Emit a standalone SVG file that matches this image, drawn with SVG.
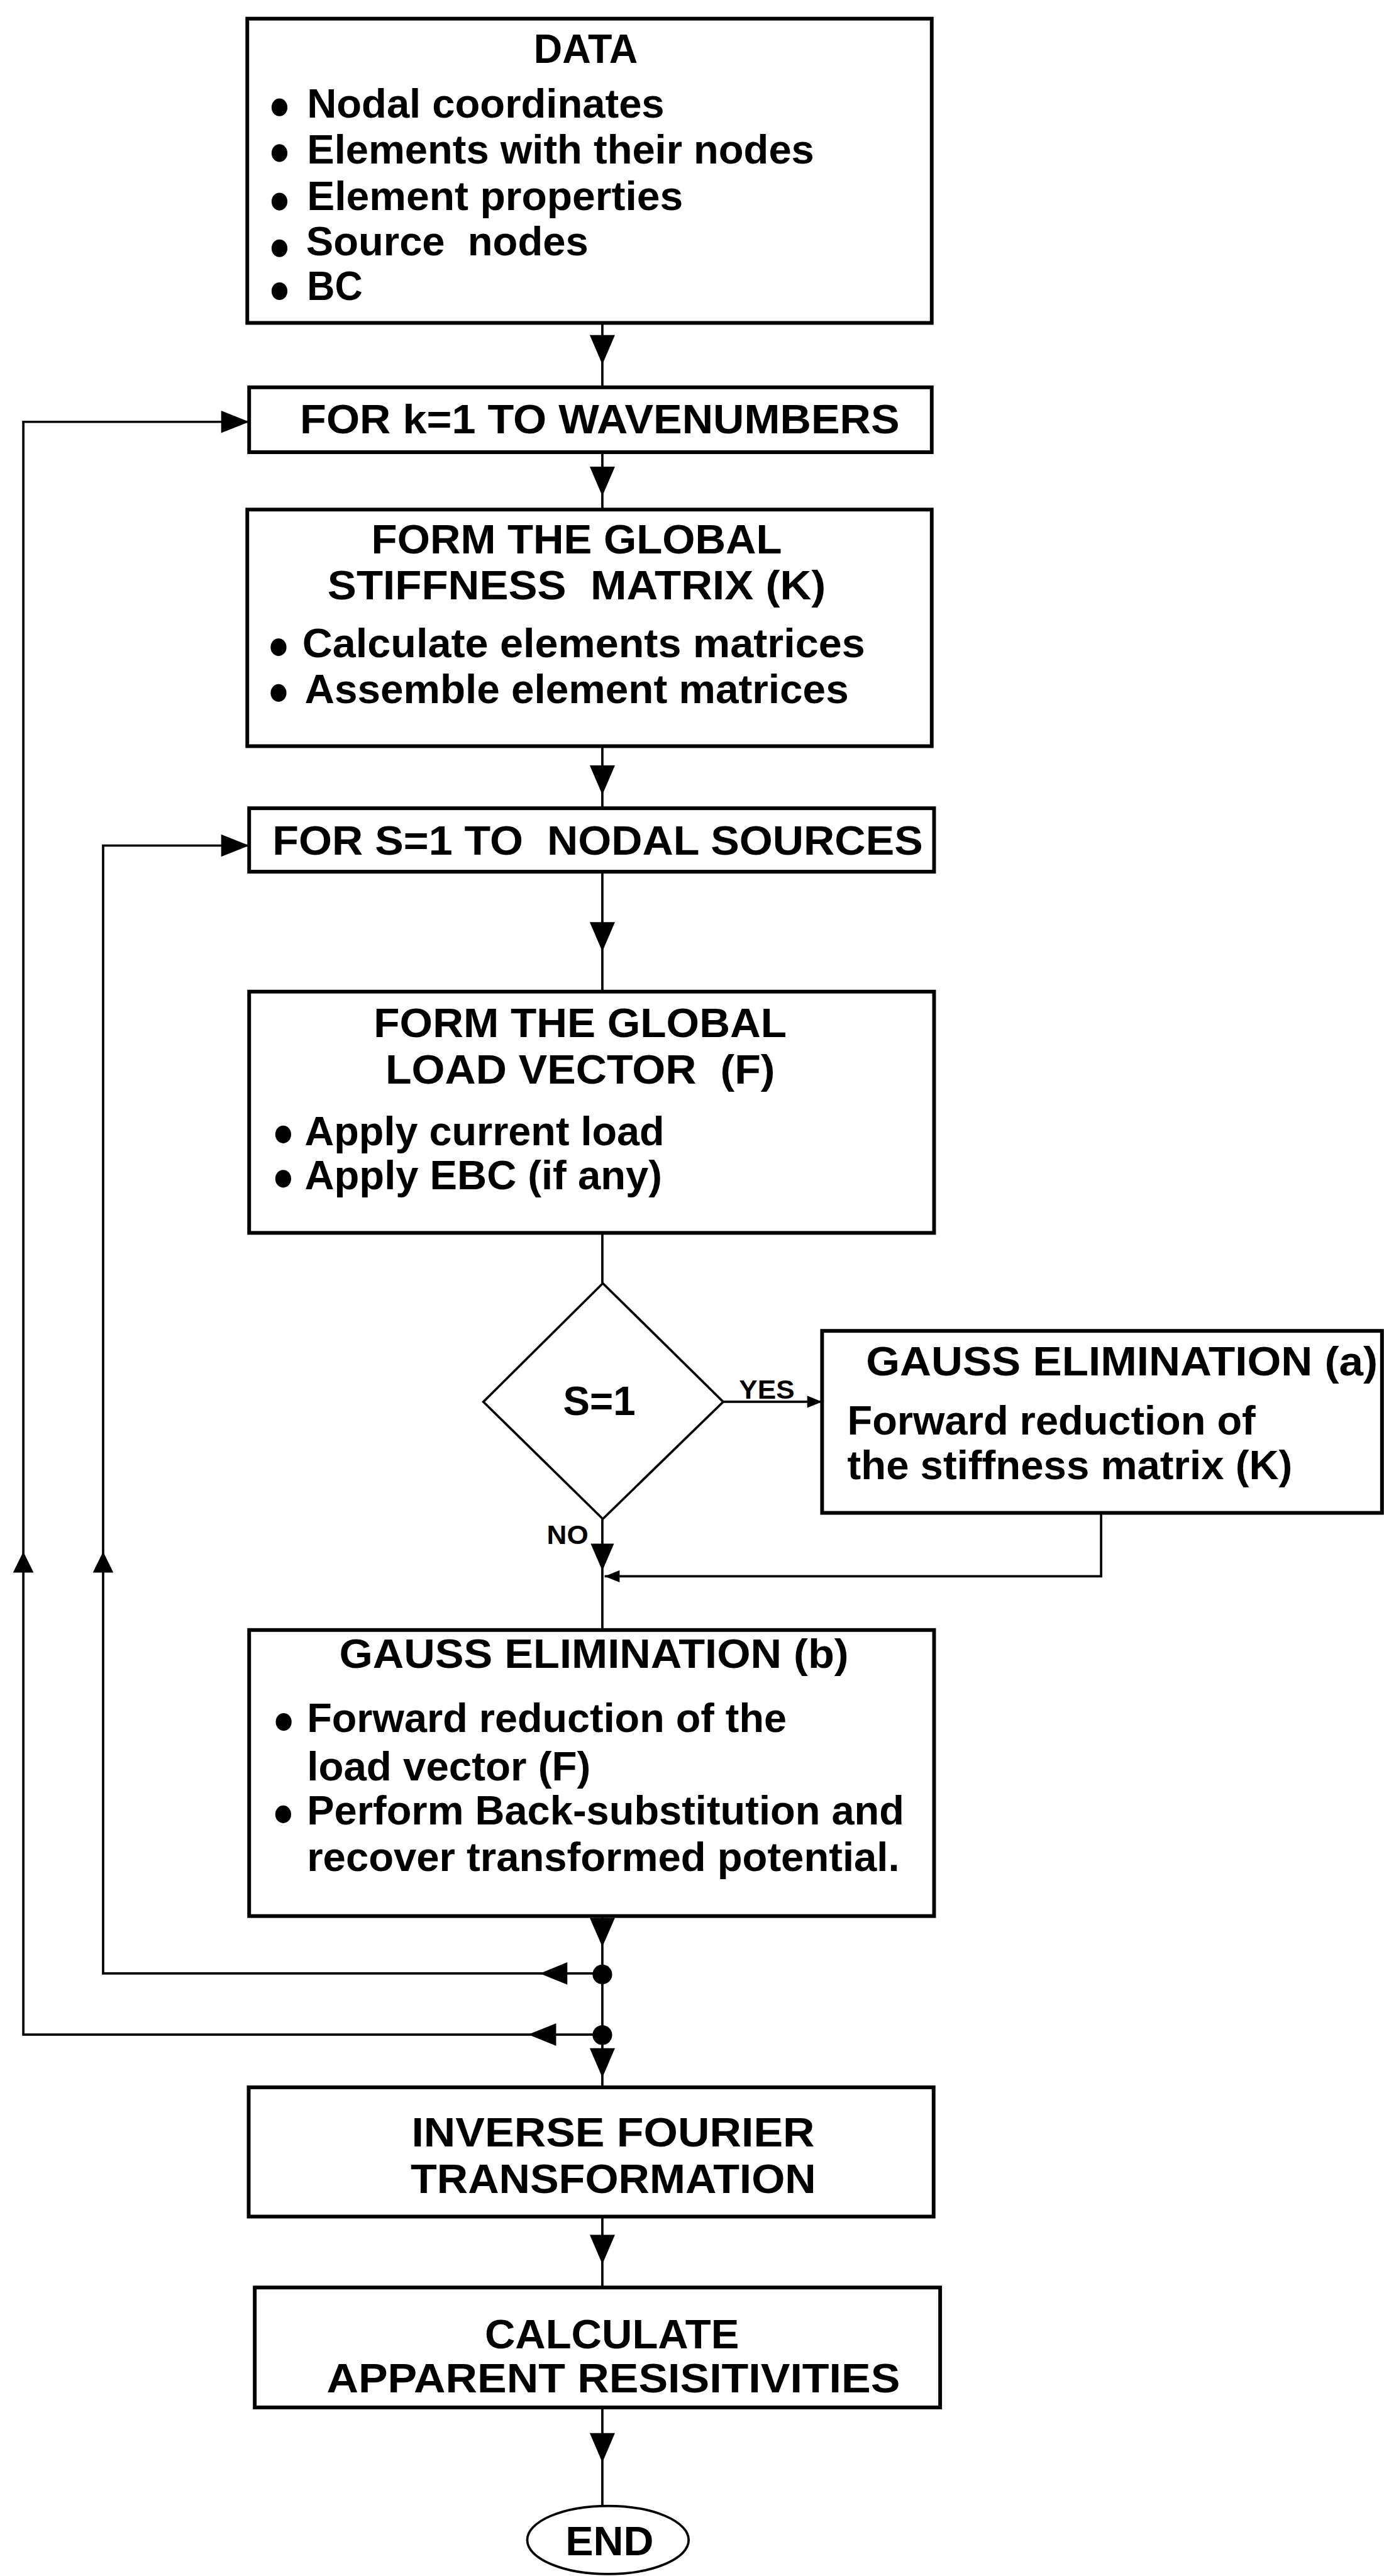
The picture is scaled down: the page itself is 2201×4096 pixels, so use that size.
<svg xmlns="http://www.w3.org/2000/svg" width="2201" height="4096" viewBox="0 0 2201 4096">
<defs>
<style>
.box{fill:#fff;stroke:#000;stroke-width:8}
.ln{fill:none;stroke:#000;stroke-width:5}
.t{font-family:"Liberation Sans",Arial,sans-serif;font-weight:bold;font-size:87px;fill:#000}
.s{font-family:"Liberation Sans",Arial,sans-serif;font-weight:bold;font-size:58px;fill:#000}
.ah{fill:#000;stroke:none}
.b{fill:#000}
</style>
</defs>
<rect x="0" y="0" width="2201" height="4096" fill="#fff"/>
<g transform="scale(0.742)">
<g id="connectors">
<path class="ln" d="M1291 692V830M1291 969V1092M1291 1599V1732M1291 1868V2125M1291 2642V2750M1291 3255V3493M1291 4106V4473M1291 4749V4902M1291 5159V5368"/>
<path class="ln" d="M1550 3004H1762"/>
<path class="ln" d="M2360 3242V3378H1296"/>
<path class="ln" d="M1291 4229H221V1812H534"/>
<path class="ln" d="M1291 4360H50V904H534"/>
<g class="ah">
<polygon points="1264,718 1318,718 1291,781"/>
<polygon points="1264,1000 1318,1000 1291,1063"/>
<polygon points="1264,1640 1318,1640 1291,1703"/>
<polygon points="1264,1976 1318,1976 1291,2039"/>
<polygon points="1266,3308 1316,3308 1291,3366"/>
<polygon points="1264,4110 1318,4110 1291,4172"/>
<polygon points="1264,4389 1318,4389 1291,4452"/>
<polygon points="1264,4789 1318,4789 1291,4852"/>
<polygon points="1264,5214 1318,5214 1291,5277"/>
<polygon points="1730,2991 1730,3017 1762,3004"/>
<polygon points="1328,3365 1328,3391 1296,3378"/>
<polygon points="1216,4205 1216,4253 1157,4229"/>
<polygon points="1192,4336 1192,4384 1132,4360"/>
<polygon points="474,880 474,928 534,904"/>
<polygon points="474,1788 474,1836 534,1812"/>
<polygon points="28,3370 72,3370 50,3325"/>
<polygon points="199,3370 243,3370 221,3325"/>
<circle cx="1291" cy="4231" r="21"/>
<circle cx="1291" cy="4361" r="21"/>
</g>
</g>
<g id="n-data">
<rect class="box" x="530" y="40" width="1467" height="652"/>
<text class="t" x="1144" y="135" textLength="223" lengthAdjust="spacingAndGlyphs">DATA</text>
<ellipse class="b" cx="599" cy="230" rx="17" ry="19"/><ellipse class="b" cx="599" cy="328" rx="17" ry="19"/><ellipse class="b" cx="599" cy="432" rx="17" ry="19"/><ellipse class="b" cx="599" cy="532" rx="17" ry="19"/><ellipse class="b" cx="599" cy="624" rx="17" ry="19"/>
<text class="t" x="658" y="252" textLength="766" lengthAdjust="spacingAndGlyphs">Nodal coordinates</text>
<text class="t" x="658" y="351" textLength="1087" lengthAdjust="spacingAndGlyphs">Elements with their nodes</text>
<text class="t" x="658" y="450" textLength="806" lengthAdjust="spacingAndGlyphs">Element properties</text>
<text class="t" x="656" y="547" textLength="605" lengthAdjust="spacingAndGlyphs" xml:space="preserve">Source  nodes</text>
<text class="t" x="658" y="643" textLength="119" lengthAdjust="spacingAndGlyphs">BC</text>
</g>
<g id="n-fork">
<rect class="box" x="534" y="830" width="1463" height="139"/>
<text class="t" x="643" y="929" textLength="1285" lengthAdjust="spacingAndGlyphs">FOR k=1 TO WAVENUMBERS</text>
</g>
<g id="n-stiff">
<rect class="box" x="530" y="1092" width="1467" height="507"/>
<text class="t" x="796" y="1186" textLength="880" lengthAdjust="spacingAndGlyphs">FORM THE GLOBAL</text>
<text class="t" x="702" y="1285" textLength="1068" lengthAdjust="spacingAndGlyphs" xml:space="preserve">STIFFNESS  MATRIX (K)</text>
<ellipse class="b" cx="597" cy="1387" rx="17" ry="19"/><ellipse class="b" cx="597" cy="1485" rx="17" ry="19"/>
<text class="t" x="648" y="1409" textLength="1206" lengthAdjust="spacingAndGlyphs">Calculate elements matrices</text>
<text class="t" x="653" y="1507" textLength="1166" lengthAdjust="spacingAndGlyphs">Assemble element matrices</text>
</g>
<g id="n-fors">
<rect class="box" x="534" y="1732" width="1468" height="136"/>
<text class="t" x="584" y="1831" textLength="1394" lengthAdjust="spacingAndGlyphs" xml:space="preserve">FOR S=1 TO  NODAL SOURCES</text>
</g>
<g id="n-load">
<rect class="box" x="534" y="2125" width="1468" height="517"/>
<text class="t" x="801" y="2222" textLength="885" lengthAdjust="spacingAndGlyphs">FORM THE GLOBAL</text>
<text class="t" x="826" y="2322" textLength="835" lengthAdjust="spacingAndGlyphs" xml:space="preserve">LOAD VECTOR  (F)</text>
<ellipse class="b" cx="607" cy="2431" rx="17" ry="19"/><ellipse class="b" cx="607" cy="2526" rx="17" ry="19"/>
<text class="t" x="653" y="2454" textLength="771" lengthAdjust="spacingAndGlyphs">Apply current load</text>
<text class="t" x="653" y="2548" textLength="766" lengthAdjust="spacingAndGlyphs">Apply EBC (if any)</text>
</g>
<g id="n-decision">
<polygon points="1292,2750 1550,3004 1292,3255 1036,3004" fill="#fff" stroke="#000" stroke-width="5"/>
<text class="t" x="1207" y="3032" textLength="155" lengthAdjust="spacingAndGlyphs">S=1</text>
<text class="s" x="1584" y="2997" textLength="119" lengthAdjust="spacingAndGlyphs">YES</text>
<text class="s" x="1172" y="3309" textLength="89" lengthAdjust="spacingAndGlyphs">NO</text>
</g>
<g id="n-gaussa">
<rect class="box" x="1762" y="2852" width="1200" height="390"/>
<text class="t" x="1856" y="2947" textLength="1097" lengthAdjust="spacingAndGlyphs">GAUSS ELIMINATION (a)</text>
<text class="t" x="1816" y="3074" textLength="875" lengthAdjust="spacingAndGlyphs">Forward reduction of</text>
<text class="t" x="1816" y="3170" textLength="954" lengthAdjust="spacingAndGlyphs">the stiffness matrix (K)</text>
</g>
<g id="n-gaussb">
<rect class="box" x="534" y="3493" width="1468" height="613"/>
<text class="t" x="727" y="3574" textLength="1092" lengthAdjust="spacingAndGlyphs">GAUSS ELIMINATION (b)</text>
<ellipse class="b" cx="608" cy="3690" rx="17" ry="19"/><ellipse class="b" cx="607" cy="3888" rx="17" ry="19"/>
<text class="t" x="658" y="3712" textLength="1028" lengthAdjust="spacingAndGlyphs">Forward reduction of the</text>
<text class="t" x="658" y="3816" textLength="608" lengthAdjust="spacingAndGlyphs">load vector (F)</text>
<text class="t" x="658" y="3910" textLength="1280" lengthAdjust="spacingAndGlyphs">Perform Back-substitution and</text>
<text class="t" x="658" y="4009" textLength="1270" lengthAdjust="spacingAndGlyphs">recover transformed potential.</text>
</g>
<g id="n-inverse">
<rect class="box" x="533" y="4473" width="1468" height="277"/>
<text class="t" x="882" y="4600" textLength="864" lengthAdjust="spacingAndGlyphs">INVERSE FOURIER</text>
<text class="t" x="880" y="4700" textLength="869" lengthAdjust="spacingAndGlyphs">TRANSFORMATION</text>
</g>
<g id="n-calc">
<rect class="box" x="546" y="4902" width="1469" height="257"/>
<text class="t" x="1039" y="5033" textLength="545" lengthAdjust="spacingAndGlyphs">CALCULATE</text>
<text class="t" x="700" y="5127" textLength="1229" lengthAdjust="spacingAndGlyphs">APPARENT RESISITIVITIES</text>
</g>
<g id="n-end">
<ellipse cx="1303" cy="5443" rx="173" ry="73" fill="#fff" stroke="#000" stroke-width="5"/>
<text class="t" x="1212" y="5476" textLength="189" lengthAdjust="spacingAndGlyphs">END</text>
</g>
</g>
</svg>
